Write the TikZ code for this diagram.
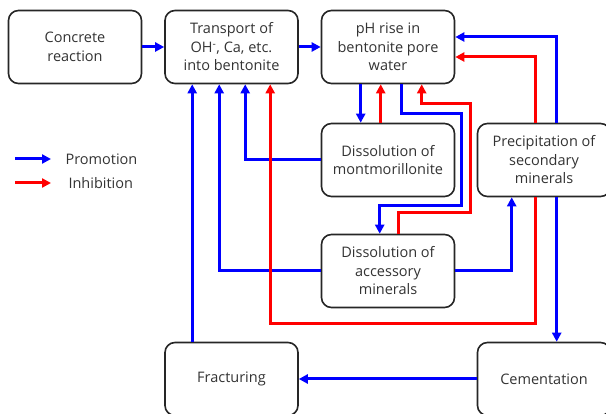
\documentclass[tikz,border=0pt]{standalone}
\usepackage{fontspec}
\setmainfont{Open Sans}
\usetikzlibrary{arrows.meta,calc}
\begin{document}
\begin{tikzpicture}[x=1pt,y=-1pt,
  box/.style={draw=black!85,line width=1.6pt,rounded corners=10pt,fill=white,
    minimum width=133pt,minimum height=73pt,align=center,inner sep=2pt,
    text=black!80,font=\fontsize{14.5}{18.5}\selectfont},
  prom/.style={draw=blue,line width=3pt,-{Triangle[length=9pt,width=9pt]}},
  inhib/.style={draw=red,line width=3pt,-{Triangle[length=9pt,width=9pt]}},
  lbl/.style={text=black!80,font=\fontsize{14.5}{16}\selectfont,anchor=west}]
\useasboundingbox (0,0) rectangle (606,414);
\begin{scope}
\clip (0,0) rectangle (606,414);
\node[box] (conc) at (75,47) {Concrete\\reaction};
\node[box] (trans) at (231.5,47) {Transport of\\OH\textsuperscript{-}, Ca, etc.\\into bentonite};
\node[box] (ph) at (388,47) {pH rise in\\bentonite pore\\water};
\node[box] (mont) at (388,160) {Dissolution of\\montmorillonite};
\node[box] (prec) at (544,160) {Precipitation of\\secondary\\minerals};
\node[box] (acc) at (388,271) {Dissolution of\\accessory\\minerals};
\node[box] (frac) at (231.5,379) {Fracturing};
\node[box] (cem) at (544,379) {Cementation};

% promotion
\draw[prom] (conc) -- (trans);
\draw[prom] (trans) -- (ph);
\draw[prom] ([xshift=28pt]frac.north west) -- ([xshift=28pt]trans.south west);
\draw[prom] (acc.west) -| ([xshift=55pt]trans.south west);
\draw[prom] (mont.west) -| ([xshift=81pt]trans.south west);
\draw[prom] ([xshift=40pt]ph.south west) -- ([xshift=40pt]mont.north west);
\draw[prom] ([xshift=81pt]ph.south west) -- ++(0,29) -- ++(60,0) -- ++(0,92) -| ([xshift=59pt]acc.north west);
\draw[prom] ([xshift=80pt]prec.north west) |- ($(ph.east)+(0,-10)$);
\draw[prom] ([xshift=80pt]prec.south west) -- ([xshift=80pt]cem.north west);
\draw[prom] (acc.east) -| ([xshift=35pt]prec.south west);
\draw[prom] (cem.west) -- (frac.east);

% inhibition
\draw[inhib] ([xshift=59pt]prec.south west) -- ++(0,126) -| ([xshift=106pt]trans.south west);
\draw[inhib] ([xshift=60pt]mont.north west) -- ([xshift=60pt]ph.south west);
\draw[inhib] ([xshift=78pt]acc.north west) -- ++(0,-21) -- ++(72,0) -- ++(0,-109) -| ([xshift=101pt]ph.south west);
\draw[inhib] ([xshift=59pt]prec.north west) |- ($(ph.east)+(0,10)$);
\end{scope}

% legend
\coordinate (lp1) at (15,159);
\coordinate (lp2) at (51,159);
\coordinate (li1) at (15,183);
\coordinate (li2) at (51,183);
\draw[prom] (lp1) -- (lp2);
\draw[inhib] (li1) -- (li2);
\node[lbl] (lpt) at (62,159) {Promotion};
\node[lbl] (lit) at (65,183) {Inhibition};
\end{tikzpicture}
\end{document}
